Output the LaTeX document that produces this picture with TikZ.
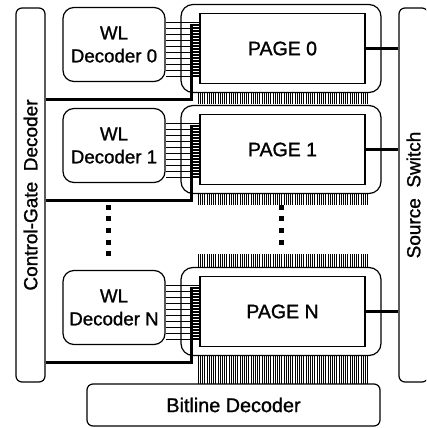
\documentclass[tikz,border=0pt]{standalone}
\usepackage{fontspec}
\setmainfont[FakeBold=1.2]{Liberation Sans}
\begin{document}
\begin{tikzpicture}[x=1pt,y=-1pt]
  \tikzstyle{block}=[draw,line width=1.2pt,rounded corners=6pt,inner sep=0pt,font=\fontsize{19}{22}\selectfont]
  \tikzstyle{wlbox}=[block,rounded corners=11pt,minimum width=102pt,minimum height=74pt,align=center,font=\fontsize{18.7}{23}\selectfont]
  \tikzstyle{pagebox}=[block,rounded corners=12pt,minimum width=200pt,minimum height=88pt]
  \tikzstyle{pagearea}=[draw,line width=1.2pt,inner sep=0pt,minimum width=165pt,minimum height=70pt,font=\fontsize{19.5}{22}\selectfont]
  \tikzstyle{wire}=[line width=0.8pt]
  \tikzstyle{bus}=[line width=2.8pt]
  \tikzstyle{bitline}=[line width=0.6pt]
  \useasboundingbox (0,0) rectangle (426,428);
  \clip (0,0) rectangle (426,428);
  % decoders round the array
  \node[block,minimum width=29pt,minimum height=374pt] (cg) at (30.5,195) {\rotatebox{90}{Control-Gate\ \ Decoder}};
  \node[block,minimum width=29pt,minimum height=374pt] (ss) at (413.5,195) {\rotatebox{90}{Source\ \ Switch}};
  \node[block,minimum width=293pt,minimum height=42pt,font=\fontsize{19.8}{22}\selectfont] (bl) at (233.5,405) {Bitline Decoder};
  % bitlines
  \foreach \a/\b in {92.5/104,193.5/205,254/267.5,355.5/384}
    \draw[bitline] \foreach \x in {198,200.2,...,368} {(\x,\a) -- (\x,\b)};
  % pages with their WL decoders
  \foreach \i/\y in {0/48.5,1/149.5,N/311.5}{
    \node[pagebox] (po\i) at (281,\y) {};
    \node[pagearea,fill=white] (pi\i) at (282.5,\y) {PAGE \i};
    \node[wlbox] (wl\i) at (114,\y-4) {WL\\Decoder \i};
    \foreach \k in {0,...,9}{
      \pgfmathsetmacro\yy{\y-26.5+6*\k}
      \draw[wire] (wl\i.east |- 0,\yy) -- (pi\i.west |- 0,\yy);
    }
    \foreach \k in {0,...,17}{
      \pgfmathsetmacro\yy{\y-23.5+3*\k}
      \draw[line width=1.8pt] ([xshift=-8pt]pi\i.west |- 0,\yy) -- (pi\i.west |- 0,\yy);
    }
    \pgfmathsetmacro\yc{\y+51}
    \pgfmathsetmacro\yt{\y-23.5}
    \draw[bus] (cg.east |- 0,\yc) -| ([xshift=-8pt]pi\i.west |- 0,\yt) -- (pi\i.west |- 0,\yt);
    \draw[bus] (pi\i.east) -- (ss.west |- pi\i.east);
  }
  % more pages in between
  \foreach \d in {0,...,4}
    \fill (105.5,204.5+11.7*\d) rectangle ++(5,5);
  \foreach \d in {0,...,3}
    \fill (278.5,204.5+11.7*\d) rectangle ++(5,5);
\end{tikzpicture}
\end{document}
